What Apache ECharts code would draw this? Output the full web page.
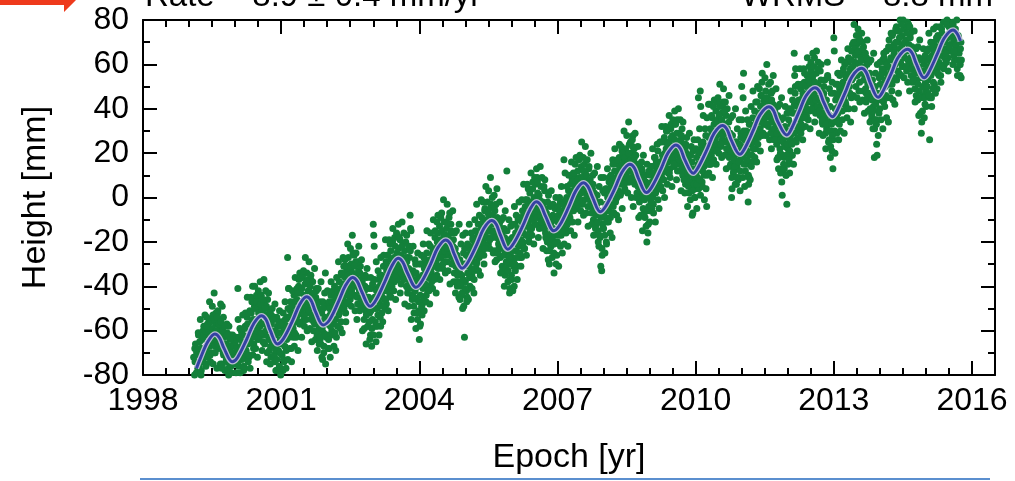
<!DOCTYPE html>
<html><head><meta charset="utf-8">
<script src="https://cdn.jsdelivr.net/npm/echarts@6/dist/echarts.min.js"></script>
<style>html,body{margin:0;padding:0;background:#fff}#c{width:1015px;height:481px}</style>
</head><body><div id="c"></div>
<script>
// ---- text ----
const rateText = 'Rate = 8.9 \u00b1 0.4 mm/yr';
const wrmsText = 'WRMS = 8.8 mm';
const xName = 'Epoch [yr]';
const yName = 'Height [mm]';
const xTickLabels = [1998, 2001, 2004, 2007, 2010, 2013, 2016];
const yTickLabels = [-80, -60, -40, -20, 0, 20, 40, 60, 80];

// ---- height samples (mm), one every sampleStep years; three interleaved sets ----
const sampleStep = 0.02;
const firstSampleOffset = { 1999: 0.10 };
const h1999 = [-72,-80,-66,-79,-70,-61,-76,-68,-80,-64,-73,-58,-70,-62,-75,-57,-67,-55,-71,-60,-66,-53,-63,-70,-57,-65,-52,-68,-59,-75,-61,-49,-70,-63,-78,-66,-57,-74,-80,-68,-62,-79,-71,-82,-65];
const h2000 = [-66,-79,-70,-41,-76,-64,-81,-60,-72,-65,-77,-58,-69,-54,-66,-72,-51,-63,-56,-40,-68,-49,-61,-55,-45,-64,-50,-58,-44,-62,-53,-47,-66,-57,-49,-70,-55,-63,-51,-72,-60,-67,-54,-74,-62,-78,-58,-69,-76,-64];
const h2001 = [-58,-71,-78,-60,-67,-55,-64,-27,-41,-62,-51,-68,-48,-59,-44,-56,-62,-46,-53,-40,-57,-43,-51,-36,-48,-55,-39,-47,-34,-52,-42,-49,-37,-55,-44,-60,-46,-53,-41,-62,-50,-58,-47,-66,-52,-73,-61,-49,-34,-63];
const h2002 = [-62,-49,-68,-53,-44,-60,-47,-57,-40,-55,-63,-43,-51,-38,-49,-56,-35,-46,-31,-44,-52,-33,-41,-27,-38,-46,-30,-40,-25,-36,-44,-29,-39,-48,-33,-42,-31,-50,-38,-46,-55,-40,-51,-36,-58,-45,-52,-62,-41,-55];
const h2003 = [-12,-22,-50,-65,-41,-53,-37,-48,-58,-35,-45,-31,-42,-50,-29,-39,-26,-37,-44,-24,-35,-20,-32,-38,-22,-30,-17,-28,-35,-19,-26,-33,-21,-36,-24,-31,-40,-27,-37,-22,-8,-15,-44,-33,-49,-38,-30,-46,-55,-36];
const h2004 = [-64,-44,-30,-53,-41,-27,-47,-33,-25,-40,-29,-36,-22,-34,-41,-24,-31,-18,-29,-35,-16,-27,-13,-24,-31,-15,-22,-11,-26,-17,-29,-12,-21,-7,-25,-16,-30,-19,-34,-23,-38,-26,-33,-45,-28,-40,-35,-50,-25,-63];
const h2005 = [-38,-26,-45,-31,-22,-40,-29,-35,-19,-33,-26,-15,-30,-21,-12,-27,-17,-24,-9,-20,-26,-6,-18,-13,-2,-21,-8,-15,-3,-18,-11,-24,-6,-16,-28,-10,-21,-13,-27,-17,-31,-22,-14,-35,-25,12,-19,-30,-43,-26];
const h2006 = [-35,-18,-28,-40,-12,-24,-31,-14,-22,-9,-19,-27,-6,-16,-23,-4,-13,-1,-11,-18,2,-8,-14,4,-5,-12,6,-3,9,-9,1,-6,5,-13,-2,-10,3,-16,-7,-20,-28,-12,-4,-22,-15,-8,-25,-17,-5,-20];
const h2007 = [-20,-8,-15,-2,-17,-6,-12,17,-4,-14,0,-9,3,-7,6,-4,8,-3,10,-1,7,-5,12,1,9,-3,14,4,18,-1,11,2,8,-4,13,0,6,-7,4,-10,2,-12,-5,1,-15,-22,-8,-31,-33,-12];
const h2008 = [-14,2,-9,-20,4,-6,7,-3,10,-7,17,1,12,-2,9,15,3,18,6,13,21,8,16,4,22,11,19,7,24,13,20,9,28,16,6,19,10,2,14,-2,9,0,12,-5,5,-9,7,-20,1,-4];
const h2009 = [-6,10,1,14,-3,8,18,3,12,21,6,16,25,9,19,12,27,14,22,30,16,25,13,31,20,28,17,33,24,15,35,21,29,12,26,18,10,24,14,6,20,9,17,2,13,5,16,-7,8,0];
const h2010 = [4,18,9,45,13,48,22,7,25,14,20,28,-4,17,42,23,31,19,36,26,33,22,39,28,35,24,41,30,38,26,43,33,25,37,29,20,34,24,15,0,28,11,19,6,25,14,21,9,17,27];
const h2011 = [50,18,56,26,12,30,21,-2,9,33,24,16,36,27,39,22,34,43,29,38,31,46,52,35,44,33,48,38,45,32,41,36,47,30,42,27,39,33,24,37,13,28,20,35,1,25,18,32,10,-3];
const h2012 = [22,35,11,28,40,19,33,65,47,26,38,30,44,35,49,31,45,38,52,41,36,55,43,50,39,57,46,53,42,63,48,56,40,51,44,37,53,41,33,47,36,29,44,61,34,26,41,30,21,13];
const h2013 = [72,30,44,36,51,41,33,48,56,39,52,45,60,42,55,47,63,50,58,45,66,54,78,61,50,69,57,73,52,64,59,70,48,62,55,43,60,51,39,56,46,35,53,41,18,50,35,19,44,38];
const h2014 = [40,55,47,62,43,57,50,66,45,59,71,52,63,48,74,58,67,54,77,61,70,56,80,65,73,59,76,63,71,57,79,66,60,72,55,68,58,64,49,61,53,44,59,48,38,29,55,46,60,42];
const h2015 = [48,62,53,67,26,58,45,64,52,70,57,66,49,73,61,68,55,76,64,79,60,72,67,80,63,77,69,74,66,79,71,62,76,68,58,73,65,55,70];

const g1999 = [-84,-74,-82,-69,-77,-71,-65,-79,-68,-74,-63,-72,-60,-69,-58,-72,-61,-67,-56,-65,-59,-64,-55,-67,-60,-54,-66,-57,-62,-56,-68,-60,-71,-58,-66,-73,-62,-77,-69,-64,-76,-70,-84,-67,-75];
const g2000 = [-75,-68,-83,-74,-63,-79,-67,-73,-62,-76,-59,-70,-66,-57,-71,-62,-65,-52,-61,-55,-63,-50,-58,-47,-60,-52,-56,-48,-61,-51,-46,-57,-50,-60,-53,-59,-64,-52,-67,-57,-65,-55,-71,-60,-69,-73,-66,-61,-70,-80];
const g2001 = [-66,-57,-73,-62,-55,-69,-58,-50,-63,-54,-60,-49,-57,-52,-61,-47,-54,-50,-43,-56,-47,-52,-41,-49,-53,-44,-50,-38,-46,-42,-51,-40,-47,-53,-43,-49,-57,-45,-55,-48,-60,-52,-63,-56,-59,-50,-67,-54,-62,-57];
const g2002 = [-56,-64,-50,-58,-52,-47,-55,-49,-61,-45,-51,-42,-53,-47,-41,-50,-44,-39,-48,-36,-43,-47,-35,-44,-38,-32,-42,-34,-39,-31,-40,-35,-45,-37,-41,-34,-47,-39,-44,-50,-42,-48,-53,-45,-49,-56,-47,-51,-59,-46];
const g2003 = [-17,-45,-58,-42,-50,-46,-40,-54,-44,-38,-49,-41,-36,-46,-33,-42,-38,-31,-40,-28,-37,-33,-27,-35,-30,-25,-33,-23,-31,-26,-34,-22,-29,-37,-27,-34,-29,-41,-32,-39,-14,-35,-41,-37,-45,-42,-34,-52,-40,-47];
const g2004 = [-58,-37,-49,-35,-45,-32,-39,-44,-30,-36,-42,-28,-33,-38,-26,-31,-36,-23,-28,-20,-32,-25,-19,-27,-21,-30,-17,-24,-20,-14,-23,-18,-26,-21,-15,-27,-22,-28,-24,-31,-27,-35,-29,-33,-39,-31,-43,-37,-30,-41];
const g2005 = [-30,-47,-34,-27,-36,-24,-32,-28,-22,-37,-25,-20,-29,-17,-23,-19,-26,-14,-21,-11,-17,-23,-10,-15,-7,-13,-19,-5,-12,-8,-15,-4,-11,-18,-9,-14,-19,-11,-23,-16,-20,-26,-18,-24,-29,-21,-33,-27,-37,-23];
const g2006 = [-24,-42,-20,-30,-16,-27,-21,-17,-10,-25,-15,-11,-20,-8,-13,-17,-7,-12,-3,-9,-14,-2,-6,-10,0,-7,-3,-9,2,-5,-1,-8,-11,-3,-7,-14,-5,-11,-19,-13,-9,-24,-17,-11,-19,-14,-21,-10,-30,-16];
const g2007 = [-11,-17,-6,-13,-9,-15,-3,-10,-7,-1,-12,-5,-2,-9,1,-4,3,-6,0,5,-2,4,8,-1,6,2,9,5,12,3,7,10,1,5,-1,8,3,-3,6,-6,-1,-8,-3,-11,-6,-17,-2,-9,-26,-14];
const g2008 = [-8,-25,-3,-11,0,-5,3,-9,5,1,-4,8,4,6,0,11,7,13,2,9,15,11,6,18,13,9,16,20,12,17,14,23,11,18,13,8,15,5,11,3,7,13,2,9,-1,4,-6,0,-12,6];
const g2009 = [4,-2,7,0,11,5,2,9,14,7,12,4,15,11,17,8,20,13,16,24,19,11,22,27,18,23,15,26,21,29,19,25,17,22,28,14,20,16,22,12,18,11,15,7,19,10,3,13,6,11];
const g2010 = [11,6,15,20,8,41,17,12,21,-1,16,23,10,19,27,15,22,29,24,17,30,26,34,21,29,37,32,24,35,28,33,39,30,22,31,26,18,29,21,4,23,17,14,25,9,20,16,24,12,22];
const g2011 = [23,45,15,20,28,17,24,6,19,27,14,30,22,32,25,35,29,24,37,31,41,34,28,39,42,36,45,33,39,43,37,29,44,34,40,31,26,35,29,18,32,22,26,7,30,15,23,27,19,24];
const g2012 = [30,17,26,33,24,38,29,55,58,32,41,27,36,43,33,40,47,36,44,50,40,47,53,45,51,43,49,55,46,52,44,50,58,45,39,48,43,35,46,38,42,33,39,54,30,37,23,33,28,35];
const g2013 = [66,40,34,45,38,47,55,42,50,46,58,49,43,54,50,61,56,47,62,53,59,70,57,64,73,55,66,60,71,62,56,67,53,58,49,63,45,55,47,40,52,44,31,49,35,42,24,47,39,45];
const g2014 = [51,44,58,49,63,53,46,60,55,68,51,62,57,73,54,65,60,70,63,57,75,67,61,78,69,64,82,70,66,74,62,69,77,63,58,66,53,61,56,46,57,51,63,45,54,34,50,57,45,52];
const g2015 = [56,50,59,46,63,55,61,49,66,59,63,72,56,68,64,71,59,74,67,82,70,65,78,72,84,68,75,81,73,78,66,74,69,80,62,72,60,67,62];

const k1999 = [-88,-68,-93,-70,-95,-62,-84,-55,-78,-85,-60,-87,-53,-76,-54,-82,-57,-47,-74,-70,-49,-75,-43,-70,-52,-77,-51,-81,-55,-48,-77,-75,-54,-86,-62,-85,-61,-92,-58,-84,-67,-90,-62,-93,-65];
const k2000 = [-88,-63,-82,-55,-84,-59,-88,-61,-53,-78,-82,-52,-72,-45,-74,-52,-77,-45,-47,-71,-66,-40,-68,-44,-72,-42,-63,-38,-44,-69,-65,-37,-62,-42,-74,-46,-43,-69,-75,-53,-50,-81,-72,-48,-78,-54,-85,-56,-51,-77];
const k2001 = [-56,-83,-52,-74,-47,-77,-54,-73,-41,-68,-47,-74,-42,-63,-67,-36,-63,-41,-69,-37,-34,-57,-63,-35,-33,-58,-27,-55,-60,-37,-29,-59,-35,-65,-38,-56,-32,-64,-42,-69,-41,-66,-64,-38,-72,-47,-70,-43,-75,-49];
const k2002 = [-42,-68,-47,-72,-38,-62,-42,-67,-44,-69,-36,-58,-29,-52,-59,-34,-61,-27,-50,-28,-56,-31,-21,-48,-44,-23,-49,-17,-44,-26,-51,-25,-55,-29,-22,-51,-49,-28,-60,-36,-59,-35,-66,-32,-58,-41,-64,-36,-67,-39];
const k2003 = [-62,-37,-56,-29,-58,-33,-62,-35,-27,-52,-56,-26,-46,-19,-48,-26,-51,-19,-21,-45,-40,-14,-42,-18,-46,-16,-37,-12,-18,-43,-39,-11,-36,-16,-48,-20,-17,-43,-49,-27,-24,-55,-46,-22,-52,-28,-59,-30,-25,-51];
const k2004 = [-30,-57,-26,-48,-21,-51,-28,-47,-15,-42,-21,-48,-16,-37,-41,-10,-37,-15,-43,-11,-8,-31,-37,-9,-7,-32,-1,-29,-34,-11,-3,-33,-9,-39,-12,-30,-6,-38,-16,-43,-15,-40,-38,-12,-46,-21,-44,-17,-49,-23];
const k2005 = [-16,-42,-21,-46,-12,-36,-16,-41,-18,-43,-10,-32,-3,-26,-33,-8,-35,-1,-24,-2,-30,-5,5,-22,-18,3,-23,9,-18,0,-25,1,-29,-3,4,-25,-23,-2,-34,-10,-33,-9,-40,-6,-32,-15,-38,-10,-41,-13];
const k2006 = [-37,-12,-31,-4,-33,-8,-37,-10,-2,-27,-31,-1,-21,6,-23,-1,-26,6,4,-20,-15,11,-17,7,-21,9,-12,13,7,-18,-14,14,-11,9,-23,5,8,-18,-24,-2,1,-30,-21,3,-27,-3,-34,-5,0,-26];
const k2007 = [-4,-31,0,-22,5,-25,-2,-21,11,-16,5,-22,10,-11,-15,16,-11,11,-17,15,18,-5,-11,17,19,-6,25,-3,-8,15,23,-7,17,-13,14,-4,20,-12,10,-17,11,-14,-12,14,-20,5,-18,9,-23,3];
const k2008 = [9,-17,4,-21,13,-11,9,-16,7,-18,15,-7,22,-1,-8,17,-10,24,1,23,-5,20,30,3,7,28,2,34,7,25,0,26,-4,22,29,0,2,23,-9,15,-8,16,-15,19,-7,10,-13,15,-16,12];
const k2009 = [-11,14,-5,22,-7,18,-11,16,24,-1,-5,25,5,32,3,25,0,32,30,6,11,37,9,33,5,35,14,39,33,8,12,40,15,35,3,31,34,8,2,24,27,-4,5,29,-1,23,-8,21,26,0];
const k2010 = [22,-5,26,4,31,1,24,5,37,10,31,4,36,15,11,42,15,37,9,41,44,21,15,43,45,20,51,23,18,41,49,19,43,13,40,22,46,14,36,9,37,12,14,40,6,31,8,35,3,29];
const k2011 = [35,9,30,5,39,15,35,10,33,8,41,19,48,25,18,43,16,50,27,49,21,46,56,29,33,54,28,60,33,51,26,52,22,48,55,26,28,49,17,41,18,42,11,45,19,36,13,41,10,38];
const k2012 = [15,40,21,48,19,44,15,42,50,25,21,51,31,58,29,51,26,58,56,32,37,63,35,59,31,61,40,65,59,34,38,66,41,61,29,57,60,34,28,50,53,22,31,55,25,49,18,47,52,26];
const k2013 = [47,20,51,29,56,26,49,30,62,35,56,29,61,40,36,67,40,62,34,66,69,46,40,68,70,45,76,48,43,66,74,44,68,38,65,47,71,39,61,34,62,37,39,65,31,56,33,60,28,54];
const k2014 = [61,35,56,31,65,41,61,36,59,34,67,45,74,51,44,69,42,76,53,75,47,72,82,55,59,80,54,86,59,77,52,78,48,74,81,52,54,75,43,67,44,68,37,71,45,62,39,67,36,64];
const k2015 = [41,66,47,74,45,70,41,68,76,51,47,77,57,84,55,77,52,84,82,58,63,89,61,85,57,87,66,91,85,60,64,92,67,87,55,83,86,60,54];

const setH = {1999:h1999,2000:h2000,2001:h2001,2002:h2002,2003:h2003,2004:h2004,2005:h2005,2006:h2006,2007:h2007,2008:h2008,2009:h2009,2010:h2010,2011:h2011,2012:h2012,2013:h2013,2014:h2014,2015:h2015};
const setG = {1999:g1999,2000:g2000,2001:g2001,2002:g2002,2003:g2003,2004:g2004,2005:g2005,2006:g2006,2007:g2007,2008:g2008,2009:g2009,2010:g2010,2011:g2011,2012:g2012,2013:g2013,2014:g2014,2015:g2015};
const setK = {1999:k1999,2000:k2000,2001:k2001,2002:k2002,2003:k2003,2004:k2004,2005:k2005,2006:k2006,2007:k2007,2008:k2008,2009:k2009,2010:k2010,2011:k2011,2012:k2012,2013:k2013,2014:k2014,2015:k2015};

// ---- fitted model curve (epoch, mm) ----
const fitCurve = [
[1999.16,-77],[1999.25,-72.3],[1999.40,-65.2],[1999.56,-61.5],[1999.66,-63.2],[1999.76,-68],[1999.94,-74],
[2000.05,-72.2],[2000.25,-64],[2000.40,-57],[2000.57,-53.3],[2000.67,-55],[2000.76,-59.8],[2000.92,-66],
[2001.05,-63.6],[2001.25,-55.4],[2001.40,-48.3],[2001.55,-44.7],[2001.65,-46.4],[2001.74,-51.2],[2001.91,-57.5],
[2002.05,-55.2],[2002.25,-46.7],[2002.40,-39.6],[2002.55,-36],[2002.65,-37.7],[2002.75,-42.5],[2002.93,-49],
[2003.05,-46.5],[2003.25,-38],[2003.40,-31],[2003.54,-27.4],[2003.64,-29.1],[2003.74,-33.9],[2003.93,-40.5],
[2004.05,-38],[2004.25,-29.8],[2004.40,-22.7],[2004.57,-19.1],[2004.67,-20.8],[2004.76,-25.6],[2004.93,-31.9],
[2005.05,-29.4],[2005.25,-21.1],[2005.40,-14],[2005.57,-10.4],[2005.67,-12.1],[2005.76,-16.9],[2005.92,-23.3],
[2006.05,-20.6],[2006.25,-12.6],[2006.40,-5.5],[2006.54,-1.9],[2006.64,-3.6],[2006.74,-8.4],[2006.92,-15],
[2007.05,-12.4],[2007.25,-4],[2007.40,3.1],[2007.56,6.7],[2007.66,5],[2007.76,0.2],[2007.93,-6.4],
[2008.05,-3.8],[2008.25,4.3],[2008.40,11.4],[2008.57,15],[2008.67,13.3],[2008.76,8.5],[2008.93,2.2],
[2009.05,4.8],[2009.25,13],[2009.40,20.1],[2009.57,23.7],[2009.67,22],[2009.76,17.2],[2009.95,10.9],
[2010.05,13.4],[2010.25,21.8],[2010.40,28.9],[2010.58,32.5],[2010.68,30.8],[2010.77,26],[2010.96,19.5],
[2011.05,21.5],[2011.25,30.2],[2011.40,37.3],[2011.59,40.9],[2011.69,39.2],[2011.78,34.4],[2011.98,28.2],
[2012.05,29.7],[2012.25,38.8],[2012.40,45.9],[2012.59,49.5],[2012.69,47.8],[2012.78,43],[2012.97,36.4],
[2013.05,38.3],[2013.25,47.5],[2013.40,54.6],[2013.60,58.2],[2013.70,56.5],[2013.79,51.7],[2013.96,45.2],
[2014.05,47.2],[2014.25,56.1],[2014.40,63.2],[2014.60,66.8],[2014.70,65.1],[2014.79,60.3],[2014.96,54],
[2015.05,55.9],[2015.25,64.8],[2015.40,71.9],[2015.59,75.5],[2015.68,73.8],[2015.75,70.5]
];

// ---- build scatter data from the tables ----
const points = [];
function addSet(set, shift) {
  Object.keys(set).forEach(function (y) {
    const start = Number(y) + (firstSampleOffset[y] || 0) + shift;
    set[y].forEach(function (v, i) { points.push([+(start + i * sampleStep).toFixed(4), v]); });
  });
}
addSet(setH, 0);
addSet(setK, 0.005);
addSet(setG, 0.01);

const FONT = 'Liberation Sans, Arial, Helvetica, sans-serif';
const black = '#000';
function majorX(pos, labels) {
  return {
    type: 'value', min: 1998, max: 2016.5, interval: 3, position: pos,
    axisLine: { show: true, onZero: false, lineStyle: { color: black, width: 2 } },
    axisTick: { show: true, inside: true, length: 14, lineStyle: { color: black, width: 2 } },
    axisLabel: { show: labels, fontSize: 32, color: black, fontFamily: FONT, margin: 10,
      formatter: function (v) { return xTickLabels.indexOf(v) >= 0 ? String(v) : ''; } },
    splitLine: { show: false },
    name: labels ? xName : '', nameLocation: 'middle', nameGap: 66,
    nameTextStyle: { fontSize: 34, color: black, fontFamily: FONT }
  };
}
function minorX(pos) {
  return {
    type: 'value', min: 1998, max: 2016.5, interval: 0.5, position: pos,
    axisLine: { show: false, onZero: false },
    axisTick: { show: true, inside: true, length: 7, lineStyle: { color: black, width: 2 } },
    axisLabel: { show: false }, splitLine: { show: false }
  };
}
function yAx(pos, labels) {
  return {
    type: 'value', min: -80, max: 80, interval: 20, position: pos,
    axisLine: { show: true, onZero: false, lineStyle: { color: black, width: 2 } },
    axisTick: { show: true, inside: true, length: 14, lineStyle: { color: black, width: 2 } },
    minorTick: { show: true, splitNumber: 2, length: 7, lineStyle: { color: black, width: 2 } },
    axisLabel: { show: labels, fontSize: 32, color: black, fontFamily: FONT, margin: 14,
      formatter: function (v) { return yTickLabels.indexOf(v) >= 0 ? String(v) : ''; } },
    splitLine: { show: false },
    name: labels ? yName : '', nameLocation: 'middle', nameGap: 90, nameRotate: 90,
    nameTextStyle: { fontSize: 34, color: black, fontFamily: FONT }
  };
}

const chart = echarts.init(document.getElementById('c'), null, { renderer: 'canvas' });
chart.setOption({
  animation: false,
  backgroundColor: '#fff',
  grid: { left: 143, right: 20, top: 20, bottom: 106, containLabel: false },
  xAxis: [majorX('bottom', true), minorX('bottom'), majorX('top', false), minorX('top')],
  yAxis: [yAx('left', true), yAx('right', false)],
  graphic: [
    { type: 'text', left: 145, top: -20, style: { text: rateText, font: '33px ' + FONT, fill: black } },
    { type: 'text', right: 22, top: -20, style: { text: wrmsText, font: '33px ' + FONT, fill: black } },
    { type: 'polygon', shape: { points: [[0,-15],[0,5],[64,5],[64,12],[88,-12],[64,-36]] }, style: { fill: '#ee3a1c' } },
    { type: 'line', shape: { x1: 140, y1: 479, x2: 990, y2: 479 }, style: { stroke: '#5b8fcf', lineWidth: 2 } }
  ],
  series: [
    { type: 'scatter', xAxisIndex: 0, yAxisIndex: 0, data: points, symbolSize: 7, clip: true,
      itemStyle: { color: '#13803a', opacity: 1 }, z: 2 },
    { type: 'line', xAxisIndex: 0, yAxisIndex: 0, data: fitCurve, showSymbol: false, smooth: 0.35,
      lineStyle: { color: '#b9bdd2', width: 5.5 }, z: 3 },
    { type: 'line', xAxisIndex: 0, yAxisIndex: 0, data: fitCurve, showSymbol: false, smooth: 0.35,
      lineStyle: { color: '#3442a3', width: 3 }, z: 4 }
  ]
});
</script>
</body></html>
